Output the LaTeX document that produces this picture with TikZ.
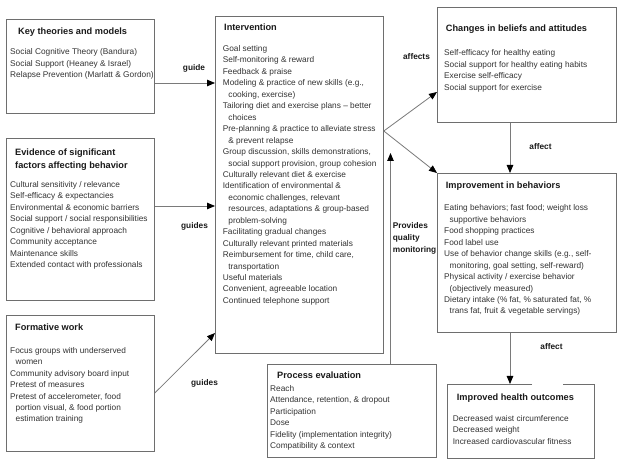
\documentclass[tikz,border=0pt]{standalone}
\usepackage{fontspec}
\setmainfont{Liberation Sans}
\usetikzlibrary{arrows.meta}
\definecolor{boxc}{HTML}{6E6E6E}
\definecolor{linec}{HTML}{7A7A7A}
\definecolor{itemc}{HTML}{333333}
\definecolor{titlec}{HTML}{1A1A1A}
\newcommand{\itemfont}{\fontsize{8.3}{11.45}\selectfont}
\newcommand{\titlefont}{\fontsize{9.2}{13}\selectfont\bfseries}
\newcommand{\ind}{\hspace*{5.5pt}}
\tikzset{
  box/.style={draw=boxc, line width=0.8pt, rectangle, inner sep=0pt, anchor=north west},
  items/.style={anchor=north west, inner sep=0pt, align=left, font=\itemfont, text=itemc},
  ttl/.style={anchor=north west, inner sep=0pt, align=left, font=\titlefont, text=titlec},
  lbl/.style={inner sep=0pt, font=\fontsize{8.3}{12}\selectfont\bfseries, text=titlec},
  lbll/.style={anchor=north west, inner sep=0pt, align=left, font=\fontsize{8.3}{12}\selectfont\bfseries, text=titlec},
  arr/.style={draw=linec, line width=0.8pt, -{Triangle[length=8pt,width=6.5pt,color=black]}}
}
\begin{document}
\begin{tikzpicture}[x=1pt,y=-1pt]
\path[fill=white, use as bounding box] (0,0) rectangle (622,465);

% boxes
\node[box, minimum width=148pt, minimum height=94pt] (kt) at (6,19) {};
\node[box, minimum width=148pt, minimum height=162pt] (ev) at (6,138) {};
\node[box, minimum width=148pt, minimum height=136pt] (fw) at (6,315) {};
\node[box, minimum width=168pt, minimum height=337pt] (int) at (215,16) {};
\node[box, minimum width=179pt, minimum height=115pt] (ch) at (437,7) {};
\node[box, minimum width=179pt, minimum height=159pt] (im) at (437,173) {};
\node[box, minimum width=169pt, minimum height=93pt] (pe) at (267,364) {};
\node[inner sep=0pt, anchor=north west, minimum width=147pt, minimum height=74pt] (he) at (447,384) {};
\draw[draw=boxc, line width=0.8pt] (he.north -| 532,0) -- (he.north west) -- (he.south west) -- (he.south east) -- (he.north east) -- (he.north -| 563,0);

% titles and items
\node[ttl] (kt-t) at (18,25.4) {\strut Key theories and models};
\node[items] (kt-i) at (10,46.7) {\strut Social Cognitive Theory (Bandura)\\
Social Support (Heaney \& Israel)\\
Relapse Prevention (Marlatt \& Gordon)};

\node[ttl] (ev-t) at (15,146.4) {\strut Evidence of significant\\ factors affecting behavior};
\node[items] (ev-i) at (10,179.3) {\strut Cultural sensitivity / relevance\\
Self-efficacy \& expectancies\\
Environmental \& economic barriers\\
Social support / social responsibilities\\
Cognitive / behavioral approach\\
Community acceptance\\
Maintenance skills\\
Extended contact with professionals};

\node[ttl] (fw-t) at (15,321.4) {\strut Formative work};
\node[items] (fw-i) at (10,345) {\strut Focus groups with underserved\\
\ind women\\
Community advisory board input\\
Pretest of measures\\
Pretest of accelerometer, food\\
\ind portion visual, \& food portion\\
\ind estimation training};

\node[ttl] (int-t) at (224,21.4) {\strut Intervention};
\node[items] (int-i) at (222.7,43.3) {\strut Goal setting\\
Self-monitoring \& reward\\
Feedback \& praise\\
Modeling \& practice of new skills (e.g.,\\
\ind cooking, exercise)\\
Tailoring diet and exercise plans -- better\\
\ind choices\\
Pre-planning \& practice to alleviate stress\\
\ind \& prevent relapse\\
Group discussion, skills demonstrations,\\
\ind social support provision, group cohesion\\
Culturally relevant diet \& exercise\\
Identification of environmental \&\\
\ind economic challenges, relevant\\
\ind resources, adaptations \& group-based\\
\ind problem-solving\\
Facilitating gradual changes\\
Culturally relevant printed materials\\
Reimbursement for time, child care,\\
\ind transportation\\
Useful materials\\
Convenient, agreeable location\\
Continued telephone support};

\node[ttl] (ch-t) at (445.7,22.7) {\strut Changes in beliefs and attitudes};
\node[items] (ch-i) at (444,47.7) {\strut Self-efficacy for healthy eating\\
Social support for healthy eating habits\\
Exercise self-efficacy\\
Social support for exercise};

\node[ttl] (im-t) at (445.7,179.4) {\strut Improvement in behaviors};
\node[items] (im-i) at (444,202.7) {\strut Eating behaviors; fast food; weight loss\\
\ind supportive behaviors\\
Food shopping practices\\
Food label use\\
Use of behavior change skills (e.g., self-\\
\ind monitoring, goal setting, self-reward)\\
Physical activity / exercise behavior\\
\ind (objectively measured)\\
Dietary intake (\% fat, \% saturated fat, \%\\
\ind trans fat, fruit \& vegetable servings)};

\node[ttl] (he-t) at (456.7,391.4) {\strut Improved health outcomes};
\node[items] (he-i) at (452.7,413.3) {\strut Decreased waist circumference\\
Decreased weight\\
Increased cardiovascular fitness};

\node[ttl] (pe-t) at (277,369.4) {\strut Process evaluation};
\node[items] (pe-i) at (270,383.3) {\strut Reach\\
Attendance, retention, \& dropout\\
Participation\\
Dose\\
Fidelity (implementation integrity)\\
Compatibility \& context};

% connectors
\draw[arr] (kt.east |- 0,83) -- (int.west |- 0,83);
\draw[arr] (ev.east |- 0,206) -- (int.west |- 0,206);
\draw[arr] (fw.east |- 0,393) -- (int.west |- 0,333);
\coordinate (split) at (int.east |- 0,131);
\draw[arr] (split) -- (ch.west |- 0,92);
\draw[arr] (split) -- (im.north west);
\draw[arr] (ch.south -| 510,0) -- (im.north -| 510,0);
\draw[arr] (im.south -| 510,0) -- (he.north -| 510,0);
\draw[arr] (pe.north -| 390.5,0) -- (390.5,153);

% labels
\node[lbl] (l1) at (194,68) {guide};
\node[lbl] (l2) at (194.5,226) {guides};
\node[lbl] (l3) at (204.5,383) {guides};
\node[lbl] (l4) at (416.5,57) {affects};
\node[lbl] (l5) at (540.5,147) {affect};
\node[lbl] (l6) at (551.5,347) {affect};
\node[lbll] (l7) at (392.7,219.5) {\strut Provides\\ quality\\ monitoring};
\end{tikzpicture}
\end{document}
